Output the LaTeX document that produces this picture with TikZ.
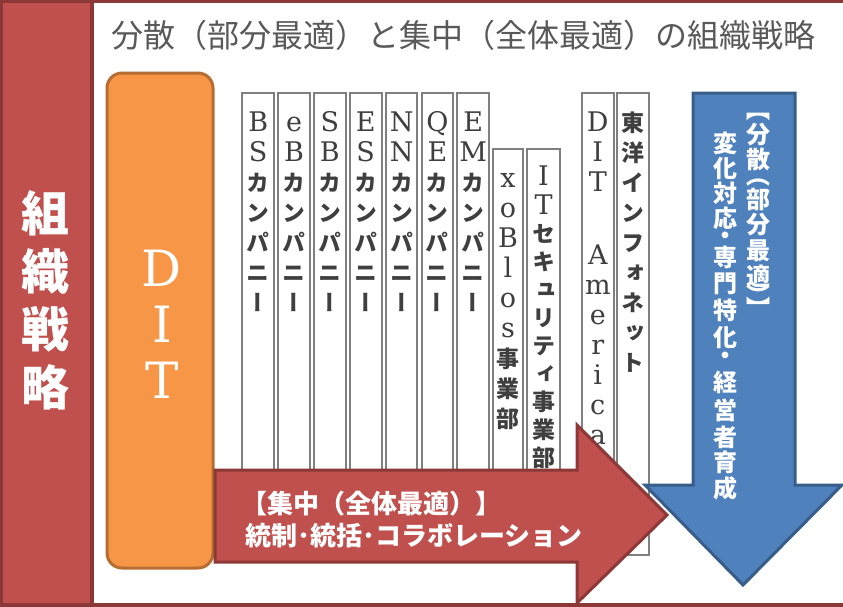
\documentclass[tikz,border=0pt]{standalone}
\usepackage{fontspec}
\setmainfont{DejaVu Serif}
\newfontfamily\jp{Noto Sans CJK JP}
\newfontfamily\jpv[Scale=0.85,RawFeature=+vert]{Noto Sans CJK JP}
\newfontfamily\jpvb[RawFeature=+vert]{Noto Sans CJK JP}
\newcommand\kv{\jpv\bfseries}

\definecolor{redfill}{HTML}{C0504D}
\definecolor{reddark}{HTML}{8C3836}
\definecolor{orafill}{HTML}{F79646}
\definecolor{oradark}{HTML}{B66D31}
\definecolor{bluefill}{HTML}{4F81BD}
\definecolor{bluedark}{HTML}{385D8A}
\definecolor{boxgray}{HTML}{7F7F7F}
\definecolor{textgray}{HTML}{3F3F3F}
\definecolor{titlegray}{HTML}{595959}

\tikzset{
	colbox/.style={draw=boxgray,fill=white,line width=2pt},
	coltext/.style={anchor=north,inner sep=0,align=center,text=textgray,font=\fontsize{27}{30}\selectfont},
	bluechar/.style={inner sep=0,text height=18pt,text depth=0pt,text=white,font=\jpvb\bfseries\fontsize{24}{24}\selectfont},
	smallglyph/.style={text height=13pt,text depth=-5pt},
	redtext/.style={anchor=base west,inner sep=0,text=white,font=\jp\bfseries\fontsize{26}{26}\selectfont},
}

\begin{document}
\begin{tikzpicture}[x=1pt,y=-1pt]
	\useasboundingbox (0,0) rectangle (843,606);
	% left band and frame
	\fill[redfill] (0,0) rectangle (92,606);
	\draw[reddark,line width=4pt] (92,0) -- (92,606);
	\draw[reddark,line width=6pt] (843,0) -- (0,0) -- (0,606) -- (843,606);
	\node[inner sep=0,align=center,text=white,font=\jp\bfseries\fontsize{48}{58}\selectfont] (soshiki) at (45,300) {組\\織\\戦\\略};

	\node[anchor=base west,inner sep=0,text=titlegray,font=\jp\fontsize{32}{32}\selectfont] (title) at (111,47) {分散（部分最適）と集中（全体最適）の組織戦略};

	% DIT
	\draw[fill=orafill,draw=oradark,line width=3pt,rounded corners=15pt] (107,73) rectangle (213,568);
	\node[inner sep=0,align=center,text=white,font=\fontsize{50}{56}\selectfont] (dit) at (162,324) {D\\I\\T};

	% companies
	\foreach \x in {242.3,278.1,314,349.8,385.7,421.5,457.3,582,617}
		\draw[colbox] (\x,93) rectangle (\x+31.7,555);
	\draw[colbox] (493,149) rectangle (523,555);
	\draw[colbox] (527,149) rectangle (560,555);
	\node[coltext] (bs) at (258.2,110) {\strut B\\S\\\kv カ\\\kv ン\\\kv パ\\\kv ニ\\\kv ー};
	\node[coltext] (eb) at (294,110) {\strut e\\B\\\kv カ\\\kv ン\\\kv パ\\\kv ニ\\\kv ー};
	\node[coltext] (sb) at (329.9,110) {\strut S\\B\\\kv カ\\\kv ン\\\kv パ\\\kv ニ\\\kv ー};
	\node[coltext] (es) at (365.7,110) {\strut E\\S\\\kv カ\\\kv ン\\\kv パ\\\kv ニ\\\kv ー};
	\node[coltext] (nn) at (401.6,110) {\strut N\\N\\\kv カ\\\kv ン\\\kv パ\\\kv ニ\\\kv ー};
	\node[coltext] (qe) at (437.4,110) {\strut Q\\E\\\kv カ\\\kv ン\\\kv パ\\\kv ニ\\\kv ー};
	\node[coltext] (em) at (473.2,110) {\strut E\\M\\\kv カ\\\kv ン\\\kv パ\\\kv ニ\\\kv ー};
	\node[coltext] (xoblos) at (508,166) {\strut x\\o\\B\\l\\o\\s\\\kv 事\\\kv 業\\\kv 部};
	\node[coltext,font=\fontsize{27}{28}\selectfont] (itsec) at (543.5,166) {\strut I\\T\\\kv セ\\\kv キ\\\kv ュ\\\kv リ\\\kv テ\\\kv ィ\\\kv 事\\\kv 業\\\kv 部};
	\node[coltext] (dita) at (597.8,110) {\strut D\\I\\T\\[43pt]A\\m\\e\\r\\i\\c\\a};
	\node[coltext] (toyo) at (632.8,110) {\strut\kv 東\\\kv 洋\\\kv イ\\\kv ン\\\kv フ\\\kv ォ\\\kv ネ\\\kv ッ\\\kv ト};

	% red arrow
	\draw[fill=redfill,draw=reddark,line width=3pt] (215,470) -- (577,470) -- (577,425) -- (667,515) -- (577,603) -- (577,562) -- (215,562) -- cycle;
	\node[redtext] (shuchu) at (241,513) {【集中（全体最適）】};
	\node[redtext] (tosei) at (245,545) {統制･統括･コラボレーション};

	% blue arrow
	\draw[fill=bluefill,draw=bluedark,line width=3pt] (693,93) -- (795,93) -- (795,485) -- (842,485) -- (743,585) -- (645,485) -- (693,485) -- cycle;
	\foreach \c/\y/\s [count=\i] in {【/112/smallglyph,分/134/,散/159/,（/178/smallglyph,部/199/,分/224/,最/250/,適/276/,）/298/smallglyph,】/311/smallglyph}
		\node[bluechar,\s] (bun\i) at (758,\y) {\c};
	\foreach \c/\y/\s [count=\i] in {変/143/,化/168/,対/193/,応/218/,・/238/smallglyph,専/257/,門/283/,特/310/,化/337/,・/358/smallglyph,経/382/,営/410/,者/437/,育/462/,成/488/}
		\node[bluechar,\s] (hen\i) at (725,\y) {\c};
\end{tikzpicture}
\end{document}
